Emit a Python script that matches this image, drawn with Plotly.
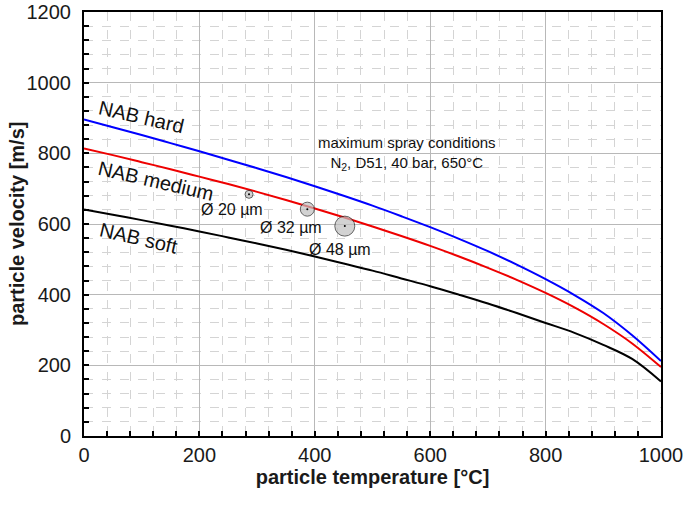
import plotly.graph_objects as go

# ---- data ----
temp = [0, 50, 100, 150, 200, 250, 300, 350, 400, 450, 500,
        550, 600, 650, 700, 750, 800, 850, 900, 950, 1000]
v_hard = [896, 874, 852, 829, 806, 782, 758, 733, 707, 680, 652,
          622, 591, 558, 523, 485, 444, 399, 348, 285, 212]
v_medium = [814, 795, 775, 755, 734, 713, 691, 668, 644, 619, 593,
            566, 538, 508, 476, 442, 405, 364, 317, 262, 195]
v_soft = [641, 626, 611, 595, 579, 562, 545, 527, 508, 488, 468,
          446, 424, 400, 375, 348, 320, 292, 258, 218, 154]

particle_temp = [286, 387, 452]
particle_vel = [684, 642, 594]
particle_size = [8, 14, 20]
particle_labels = ["Ø 20 µm", "Ø 32 µm", "Ø 48 µm"]
label_x = [256, 358, 443]
label_y = [640, 589, 527]

curve_names = ["NAB hard", "NAB medium", "NAB soft"]
curve_label_x = [100, 125, 94]
curve_label_y = [903, 722, 560]

x_ticks = [0, 200, 400, 600, 800, 1000]
y_ticks = [0, 200, 400, 600, 800, 1000, 1200]

FONT = "Liberation Sans, Arial, sans-serif"

fig = go.Figure()
for vals, col in zip([v_hard, v_medium, v_soft], ["#0000ff", "#ee0000", "#000000"]):
    fig.add_trace(go.Scatter(x=temp, y=vals, mode="lines",
                             line=dict(color=col, width=2, shape="spline", smoothing=1.0),
                             showlegend=False, hoverinfo="skip"))

fig.add_trace(go.Scatter(x=particle_temp, y=particle_vel, mode="markers",
                         marker=dict(size=particle_size, color="#c0c0c0",
                                     line=dict(color="#222222", width=1)),
                         showlegend=False, hoverinfo="skip"))
fig.add_trace(go.Scatter(x=particle_temp, y=particle_vel, mode="markers",
                         marker=dict(size=2, color="#000000"),
                         showlegend=False, hoverinfo="skip"))

for t, x, y in zip(particle_labels, label_x, label_y):
    fig.add_annotation(x=x, y=y, xref="x", yref="y", text=t, showarrow=False,
                       font=dict(size=16, color="#111111", family=FONT))

for t, x, y in zip(curve_names, curve_label_x, curve_label_y):
    fig.add_annotation(x=x, y=y, xref="x", yref="y", text=t, showarrow=False,
                       textangle=13, font=dict(size=20, color="#111111", family=FONT))

fig.add_annotation(x=560, y=799, xref="x", yref="y",
                   text="maximum spray conditions<br>N<sub>2</sub>, D51, 40 bar, 650°C",
                   showarrow=False, align="center",
                   font=dict(size=15, color="#111111", family=FONT))

# y-axis title (placed as a rotated annotation left of the tick labels)
fig.add_annotation(x=-0.116, y=0.5, xref="paper", yref="paper",
                   xanchor="center", yanchor="middle", textangle=-90,
                   text="<b>particle velocity [m/s]</b>", showarrow=False,
                   font=dict(size=20, family=FONT, color="#1a1a1a"))

axis_common = dict(
    automargin=False, ticklabeloverflow="allow",
    showline=True, linecolor="#000000", linewidth=2, mirror=True,
    ticks="inside", ticklen=5, tickwidth=2, tickcolor="#000000",
    showgrid=True, gridcolor="#b8b8b8", gridwidth=1,
    zeroline=False,
    tickfont=dict(size=20, color="#1a1a1a", family=FONT),
    minor=dict(dtick=40, ticks="inside", ticklen=5, tickwidth=2, tickcolor="#000000",
               showgrid=True, gridcolor="#d4d4d4", griddash="dash", gridwidth=1),
)

fig.update_layout(
    width=685, height=505,
    margin=dict(l=84, r=24, t=12, b=69),
    paper_bgcolor="white", plot_bgcolor="white",
    font=dict(family=FONT, color="#1a1a1a"),
    xaxis=dict(range=[0, 1000], tickvals=x_ticks, ticklabelstandoff=0,
               title=dict(text="<b>particle temperature [°C]</b>", standoff=4,
                          font=dict(size=20, family=FONT, color="#1a1a1a")),
               **axis_common),
    yaxis=dict(range=[0, 1200], tickvals=y_ticks, ticklabelstandoff=7,
               **axis_common),
)

# remove the browser's default 8px body margin so the figure fills the window
fig.write_html("out.html", config={"displayModeBar": False},
               post_script="document.body.style.margin='0';document.body.style.overflow='hidden';")
